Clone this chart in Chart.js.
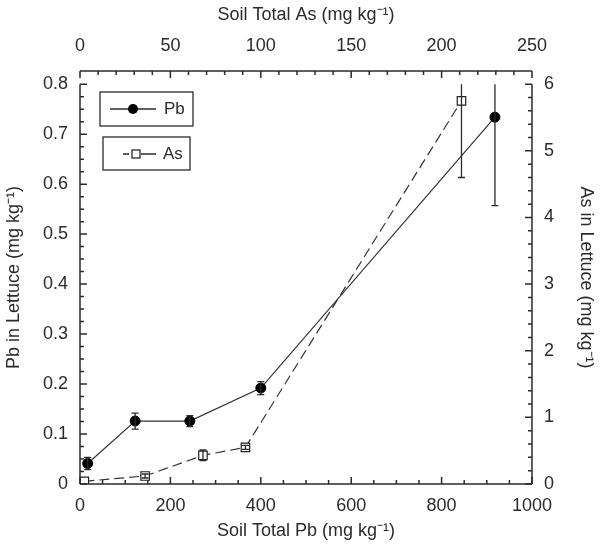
<!DOCTYPE html>
<html>
<head>
<meta charset="utf-8">
<script src="https://cdn.jsdelivr.net/npm/chart.js@4/dist/chart.umd.min.js"></script>
<style>
  body { margin: 0; background: #fff; }
  #wrap { width: 600px; height: 546px; }
</style>
</head>
<body>
<div id="wrap"><canvas id="lettuce" width="600" height="546"></canvas></div>
<script>
// Pb: soil total Pb (bottom axis) vs Pb in lettuce (left axis)
const pbSoil = [17, 122, 243, 400, 918];
const pbLettuce = [0.041, 0.126, 0.126, 0.192, 0.734];
const pbErr = [0.012, 0.016, 0.011, 0.013, 0.177];

// As: soil total As (top axis) vs As in lettuce (right axis)
const asSoil = [2.4, 36, 68, 91.5, 211];
const asLettuce = [0.04, 0.12, 0.43, 0.55, 5.75];
const asErr = [0, 0.03, 0.08, 0.03, 1.15];

const pbSoilTicks = [0, 200, 400, 600, 800, 1000];
const asSoilTicks = [0, 50, 100, 150, 200, 250];
const pbLettuceTicks = [0, 0.1, 0.2, 0.3, 0.4, 0.5, 0.6, 0.7, 0.8];
const asLettuceTicks = [0, 1, 2, 3, 4, 5, 6];

const ink = '#2b2b2b';
const font = { family: 'Liberation Sans, Arial, sans-serif', size: 18 };
const titleFont = { family: 'Liberation Sans, Arial, sans-serif', size: 18 };

// top of the y axes sits a bit below the top (As) axis
const pbTop = 0.8, asTop = 6, headroom = 1.033;

function setTicks(list) {
  return sc => { sc.ticks = list.map(v => ({ value: v })); };
}
const plain = v => String(+Number(v).toFixed(2));

// axis lines + inward major/minor ticks
const frame = {
  id: 'frame',
  afterDraw(chart) {
    const { ctx, chartArea: a, scales: s } = chart;
    const y0 = s.y.getPixelForValue(0);
    const yT = s.y.getPixelForValue(pbTop);
    ctx.save();
    ctx.strokeStyle = ink;
    ctx.lineWidth = 1.5;
    ctx.beginPath();
    ctx.moveTo(a.left, y0); ctx.lineTo(a.right, y0);
    ctx.moveTo(a.left, a.top); ctx.lineTo(a.right, a.top);
    ctx.moveTo(a.left, y0); ctx.lineTo(a.left, yT);
    ctx.moveTo(a.right, y0); ctx.lineTo(a.right, yT);
    ctx.stroke();

    const ticks = (scale, max, step, majors, fn) => {
      for (let v = 0; v <= max + 1e-9; v += step) {
        const major = majors.some(m => Math.abs(m - v) < 1e-6);
        fn(scale.getPixelForValue(v), major ? 7 : 4);
      }
    };
    ctx.beginPath();
    ticks(s.x, 1000, 50, pbSoilTicks, (p, l) => { ctx.moveTo(p, y0); ctx.lineTo(p, y0 - l); });
    ticks(s.x2, 250, 10, asSoilTicks, (p, l) => { ctx.moveTo(p, a.top); ctx.lineTo(p, a.top + l); });
    ticks(s.y, pbTop, 0.025, pbLettuceTicks, (p, l) => { ctx.moveTo(a.left, p); ctx.lineTo(a.left + l, p); });
    ticks(s.y2, asTop, 0.2, asLettuceTicks, (p, l) => { ctx.moveTo(a.right, p); ctx.lineTo(a.right - l, p); });
    ctx.stroke();
    ctx.restore();
  }
};

// vertical error bars, clipped at the top of each y axis
const errorBars = {
  id: 'errorBars',
  afterDatasetsDraw(chart) {
    const { ctx } = chart;
    chart.data.datasets.forEach((ds, i) => {
      const meta = chart.getDatasetMeta(i);
      const ys = chart.scales[ds.yAxisID];
      const top = ds.yAxisID === 'y' ? pbTop : asTop;
      ctx.save();
      ctx.strokeStyle = ink;
      ctx.lineWidth = 1.3;
      meta.data.forEach((pt, j) => {
        const e = ds.errors[j];
        if (!e) return;
        const v = ds.data[j].y;
        const hi = Math.min(v + e, top);
        const yHi = ys.getPixelForValue(hi);
        const yLo = ys.getPixelForValue(v - e);
        ctx.beginPath();
        ctx.moveTo(pt.x, yHi); ctx.lineTo(pt.x, yLo);
        ctx.moveTo(pt.x - 3.5, yLo); ctx.lineTo(pt.x + 3.5, yLo);
        if (hi < top) { ctx.moveTo(pt.x - 3.5, yHi); ctx.lineTo(pt.x + 3.5, yHi); }
        ctx.stroke();
      });
      ctx.restore();
    });
  }
};

// two separate boxed legend entries, as in the original figure
const boxLegend = {
  id: 'boxLegend',
  afterDraw(chart) {
    const { ctx, chartArea: a } = chart;
    const [pb] = chart.data.datasets;
    ctx.save();
    ctx.strokeStyle = ink;
    ctx.lineWidth = 1.3;
    ctx.font = '17px Liberation Sans, Arial, sans-serif';
    ctx.textBaseline = 'middle';

    const x = a.left;
    ctx.strokeRect(x + 20, a.top + 21, 93, 34);
    ctx.beginPath(); ctx.moveTo(x + 30, a.top + 38); ctx.lineTo(x + 76, a.top + 38); ctx.stroke();
    ctx.fillStyle = '#000';
    ctx.beginPath(); ctx.arc(x + 53, a.top + 38, pb.pointRadius, 0, Math.PI * 2); ctx.fill();
    ctx.fillStyle = ink;
    ctx.fillText('Pb', x + 84, a.top + 38);

    ctx.strokeRect(x + 23, a.top + 66, 87, 33);
    ctx.beginPath();
    ctx.moveTo(x + 43, a.top + 83); ctx.lineTo(x + 49, a.top + 83);
    ctx.moveTo(x + 61, a.top + 83); ctx.lineTo(x + 76, a.top + 83);
    ctx.stroke();
    ctx.fillStyle = '#fff';
    const h = 4;
    ctx.fillRect(x + 56 - h, a.top + 83 - h, 2 * h, 2 * h);
    ctx.strokeRect(x + 56 - h, a.top + 83 - h, 2 * h, 2 * h);
    ctx.fillStyle = ink;
    ctx.fillText('As', x + 83, a.top + 83);
    ctx.restore();
  }
};

new Chart(document.getElementById('lettuce'), {
  type: 'line',
  data: {
    datasets: [
      {
        label: 'Pb',
        data: pbSoil.map((v, i) => ({ x: v, y: pbLettuce[i] })),
        errors: pbErr,
        xAxisID: 'x',
        yAxisID: 'y',
        borderColor: '#333',
        borderWidth: 1.2,
        pointStyle: 'circle',
        pointRadius: 5,
        pointBackgroundColor: '#000',
        pointBorderColor: '#000',
        pointBorderWidth: 1,
        tension: 0
      },
      {
        label: 'As',
        data: asSoil.map((v, i) => ({ x: v, y: asLettuce[i] })),
        errors: asErr,
        xAxisID: 'x2',
        yAxisID: 'y2',
        borderColor: '#333',
        borderWidth: 1.2,
        borderDash: [10, 5],
        pointStyle: 'rect',
        pointRadius: 6,
        pointBackgroundColor: '#fff',
        pointBorderColor: '#222',
        pointBorderWidth: 1.2,
        tension: 0
      }
    ]
  },
  options: {
    responsive: false,
    animation: false,
    layout: { padding: 0 },
    plugins: {
      legend: { display: false },
      tooltip: { enabled: false }
    },
    scales: {
      x: {
        type: 'linear', position: 'bottom', min: 0, max: 1000,
        grid: { display: false, drawTicks: false }, border: { display: false },
        ticks: { color: ink, font, padding: 11, callback: plain },
        title: { display: true, text: 'Soil Total Pb (mg kg⁻¹)', color: ink, font: titleFont, padding: 4 },
        afterBuildTicks: setTicks(pbSoilTicks),
        afterFit: sc => { sc.height = 62; }
      },
      x2: {
        type: 'linear', position: 'top', min: 0, max: 250,
        grid: { display: false, drawTicks: false }, border: { display: false },
        ticks: { color: ink, font, padding: 14, callback: plain },
        title: { display: true, text: 'Soil Total As (mg kg⁻¹)', color: ink, font: titleFont, padding: 4 },
        afterBuildTicks: setTicks(asSoilTicks),
        afterFit: sc => { sc.height = 71; }
      },
      y: {
        type: 'linear', position: 'left', min: 0, max: pbTop * headroom,
        grid: { display: false, drawTicks: false }, border: { display: false },
        ticks: { color: ink, font, padding: 12, callback: plain },
        title: { display: true, text: 'Pb in Lettuce (mg kg⁻¹)', color: ink, font: titleFont, padding: 3 },
        afterBuildTicks: setTicks(pbLettuceTicks),
        afterFit: sc => { sc.width = 80; }
      },
      y2: {
        type: 'linear', position: 'right', min: 0, max: asTop * headroom,
        grid: { display: false, drawTicks: false }, border: { display: false },
        ticks: { color: ink, font, padding: 12, callback: plain },
        title: { display: true, text: 'As in Lettuce (mg kg⁻¹)', color: ink, font: titleFont, padding: 3 },
        afterBuildTicks: setTicks(asLettuceTicks),
        afterFit: sc => { sc.width = 68; }
      }
    }
  },
  plugins: [frame, errorBars, boxLegend]
});
</script>
</body>
</html>
